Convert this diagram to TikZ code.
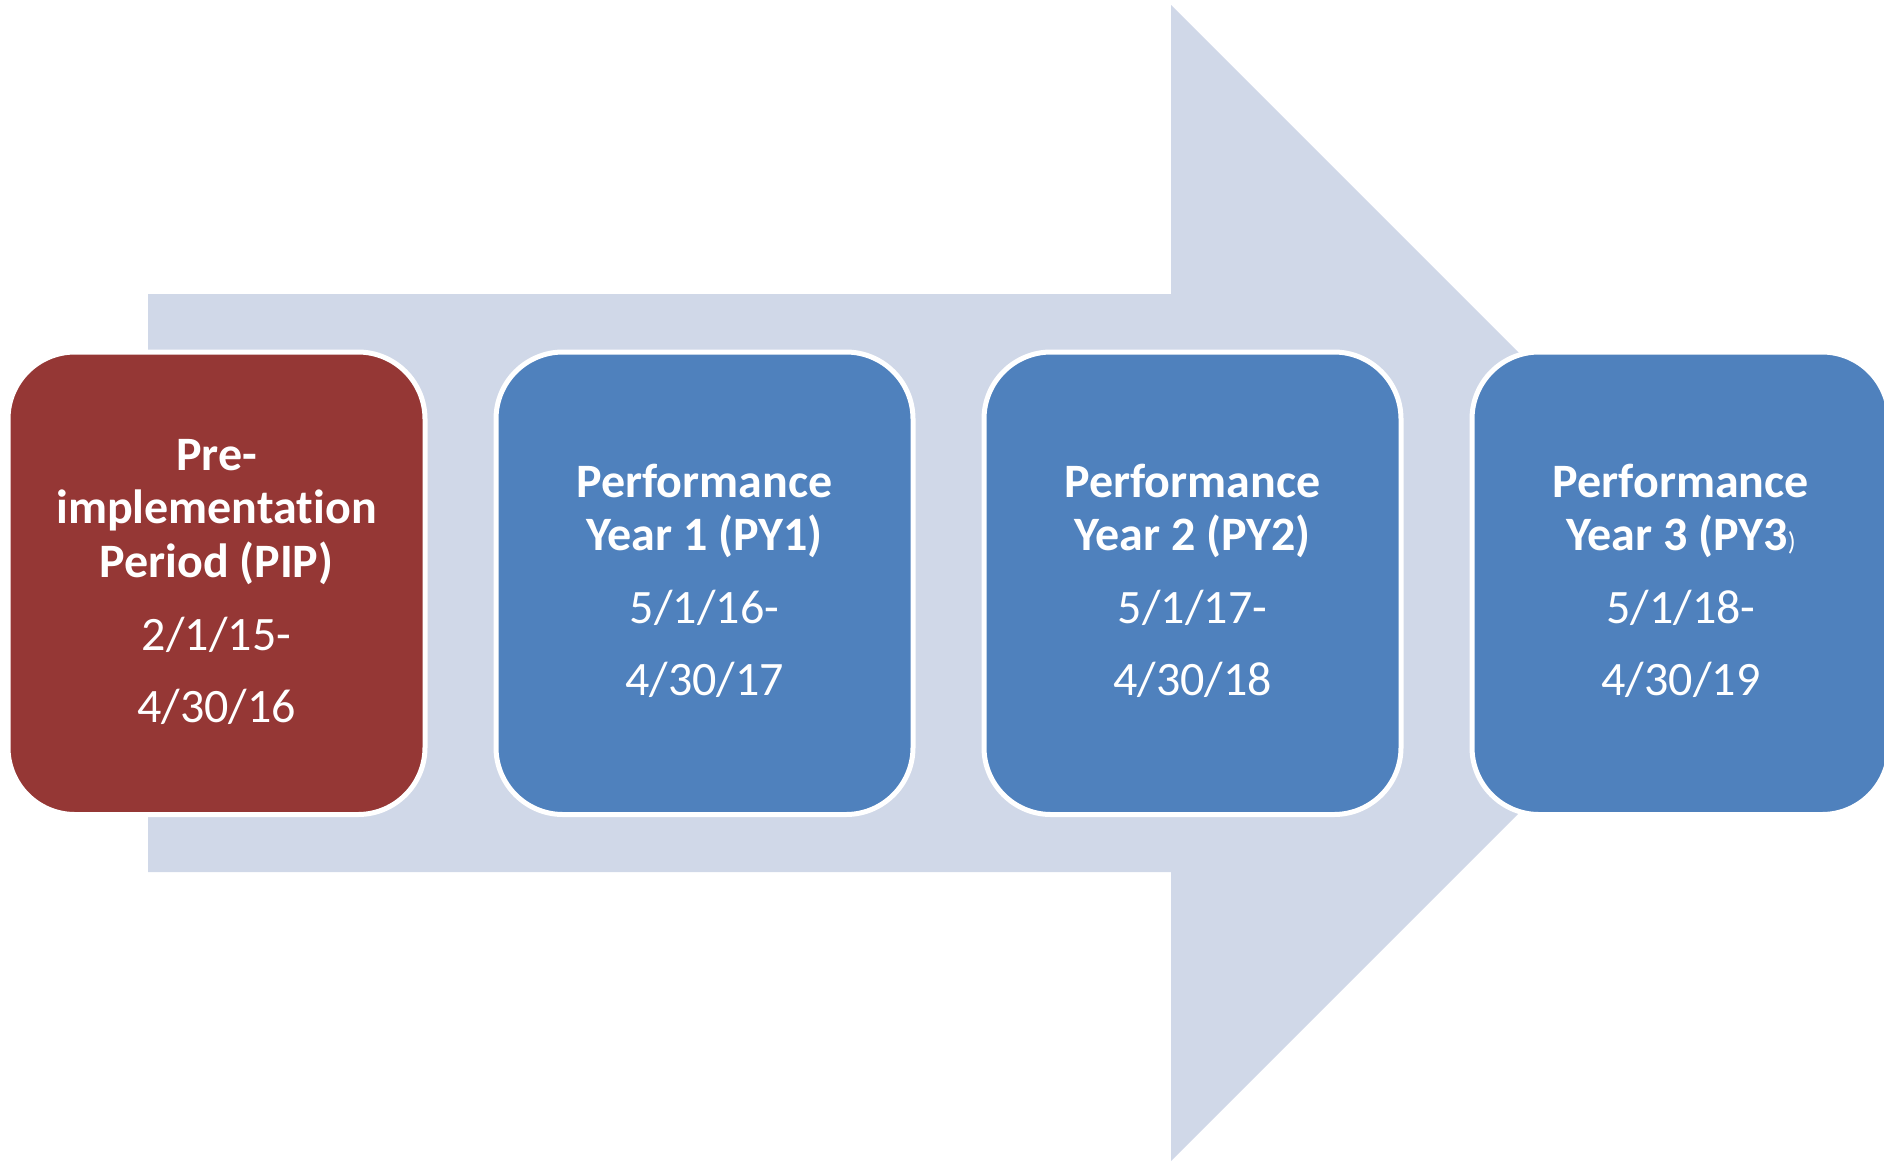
\documentclass[tikz,border=0pt]{standalone}
\usepackage{fontspec}
\setmainfont[Ligatures={NoCommon}]{Carlito}
\definecolor{arrowfill}{HTML}{D0D8E8}
\definecolor{pipred}{HTML}{953735}
\definecolor{pyblue}{HTML}{4F81BD}
\begin{document}
\begin{tikzpicture}[x=0.5pt,y=-0.5pt,
  phasebox/.style={draw=white,line width=2.5pt,rounded corners=33.5pt},
  titletxt/.style={anchor=base,text=white,inner sep=0pt,font=\fontsize{24}{28}\selectfont\bfseries},
  datetxt/.style={anchor=base,text=white,inner sep=0pt,font=\fontsize{24}{28}\selectfont}]
\useasboundingbox (0,0) rectangle (1884,1163);
\clip (0,0) rectangle (1884,1163);
% big background arrow
\fill[arrowfill] (148,294) -- (1171,294) -- (1171,5) -- (1749,583) -- (1171,1161) -- (1171,872) -- (148,872) -- cycle;
% boxes
\draw[phasebox,fill=pipred] (8,352) rectangle (425,814.5);
\node[coordinate] (b1) at (216.5,583) {};
\draw[phasebox,fill=pyblue] (496,352) rectangle (913,814.5);
\node[coordinate] (b2) at (704.5,583) {};
\draw[phasebox,fill=pyblue] (984,352) rectangle (1401,814.5);
\node[coordinate] (b3) at (1192.5,583) {};
\draw[phasebox,fill=pyblue] (1472,352) rectangle (1889,814.5);
\node[coordinate] (b4) at (1680.5,583) {};
% box 1 text
\node[titletxt] (t1a) at (216.5,470) {Pre-};
\node[titletxt] (t1b) at (216.5,523) {implementation};
\node[titletxt] (t1c) at (216.5,577) {Period (PIP)};
\node[datetxt] (d1a) at (216.5,650) {2/1/15-};
\node[datetxt] (d1b) at (216.5,722) {4/30/16};
% box 2 text
\node[titletxt] (t2a) at (704.5,497) {Performance};
\node[titletxt] (t2b) at (704.5,550) {Year 1 (PY1)};
\node[datetxt] (d2a) at (704.5,623) {5/1/16-};
\node[datetxt] (d2b) at (704.5,695) {4/30/17};
% box 3 text
\node[titletxt] (t3a) at (1192.5,497) {Performance};
\node[titletxt] (t3b) at (1192.5,550) {Year 2 (PY2)};
\node[datetxt] (d3a) at (1192.5,623) {5/1/17-};
\node[datetxt] (d3b) at (1192.5,695) {4/30/18};
% box 4 text
\node[titletxt] (t4a) at (1681,497) {Performance};
\node[titletxt] (t4b) at (1681,550) {Year 3 (PY3{\fontsize{13}{14}\selectfont\mdseries)}};
\node[datetxt] (d4a) at (1681,623) {5/1/18-};
\node[datetxt] (d4b) at (1681,695) {4/30/19};
\end{tikzpicture}
\end{document}
